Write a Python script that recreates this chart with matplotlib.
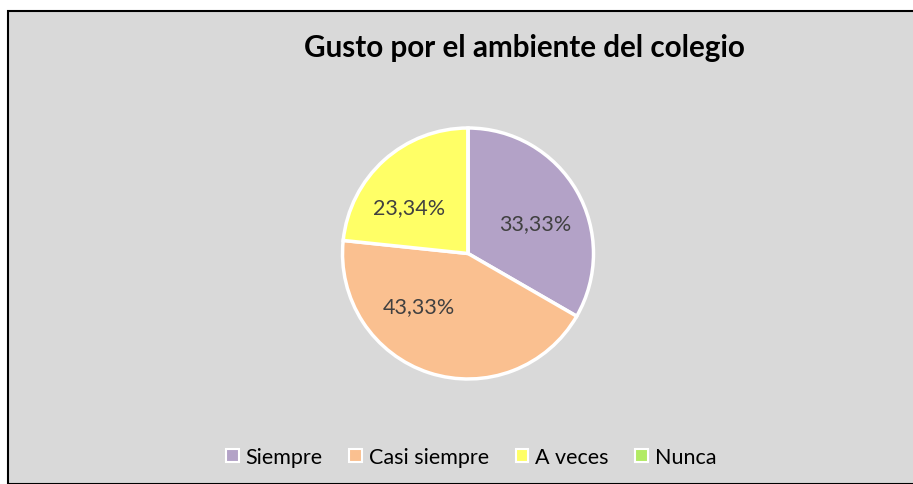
import matplotlib
matplotlib.use("Agg")
import matplotlib.pyplot as plt
from matplotlib.patches import Rectangle
import numpy as np

categories = ["Siempre", "Casi siempre", "A veces", "Nunca"]
values = [33.33, 43.33, 23.34, 0.0]
labels_txt = ["33,33%", "43,33%", "23,34%", ""]
colors = ["#B3A2C7", "#FAC090", "#FFFF66", "#B2EB64"]
title = "Gusto por el ambiente del colegio"

# label placement (layout only): polar angle in degrees and radius fraction
label_angles = [24.5, -133.0, 142.0, 0.0]
label_radii = [0.59, 0.57, 0.60, 0.0]

plt.rcParams['font.family'] = ['Lato', 'DejaVu Sans']

W, H = 913, 485
fig = plt.figure(figsize=(W / 100, H / 100), dpi=100)
fig.patch.set_facecolor("white")

# chart area background with border
bg = Rectangle((8 / W, 0), 1, 1 - 12 / H, transform=fig.transFigure,
               facecolor="#D9D9D9", edgecolor="black", linewidth=1.5, zorder=-10)
fig.patches.append(bg)

cx, cy, r = 468, 254.5, 128
ax = fig.add_axes([(cx - r) / W, (H - cy - r) / H, 2 * r / W, 2 * r / H])
ax.set_zorder(5)
ax.set_facecolor("none")
wedges, _ = ax.pie(values, colors=colors, startangle=90, counterclock=False,
                   wedgeprops=dict(edgecolor="white", linewidth=2.5))
ax.set_xlim(-1.02, 1.02)
ax.set_ylim(-1.02, 1.02)
ax.set_aspect("equal")

for t, ang, rr in zip(labels_txt, label_angles, label_radii):
    if not t:
        continue
    a = np.deg2rad(ang)
    ax.text(rr * np.cos(a), rr * np.sin(a), t, ha="center", va="center",
            fontsize=15.5, color="#404040")

fig.text(524 / W, 1 - 57 / H, title, ha="center", va="baseline",
         fontsize=21.3, fontweight="bold", color="black")

leg = fig.legend(wedges, categories, loc="center", ncol=4,
                 bbox_to_anchor=(471 / W, 1 - 458 / H), frameon=False,
                 fontsize=15.5, handlelength=0.6, handleheight=0.6,
                 handletextpad=0.3, columnspacing=1.25)
for h in leg.legend_handles:
    h.set_edgecolor("white")
    h.set_linewidth(1.5)

fig.savefig("out.png", dpi=100)
